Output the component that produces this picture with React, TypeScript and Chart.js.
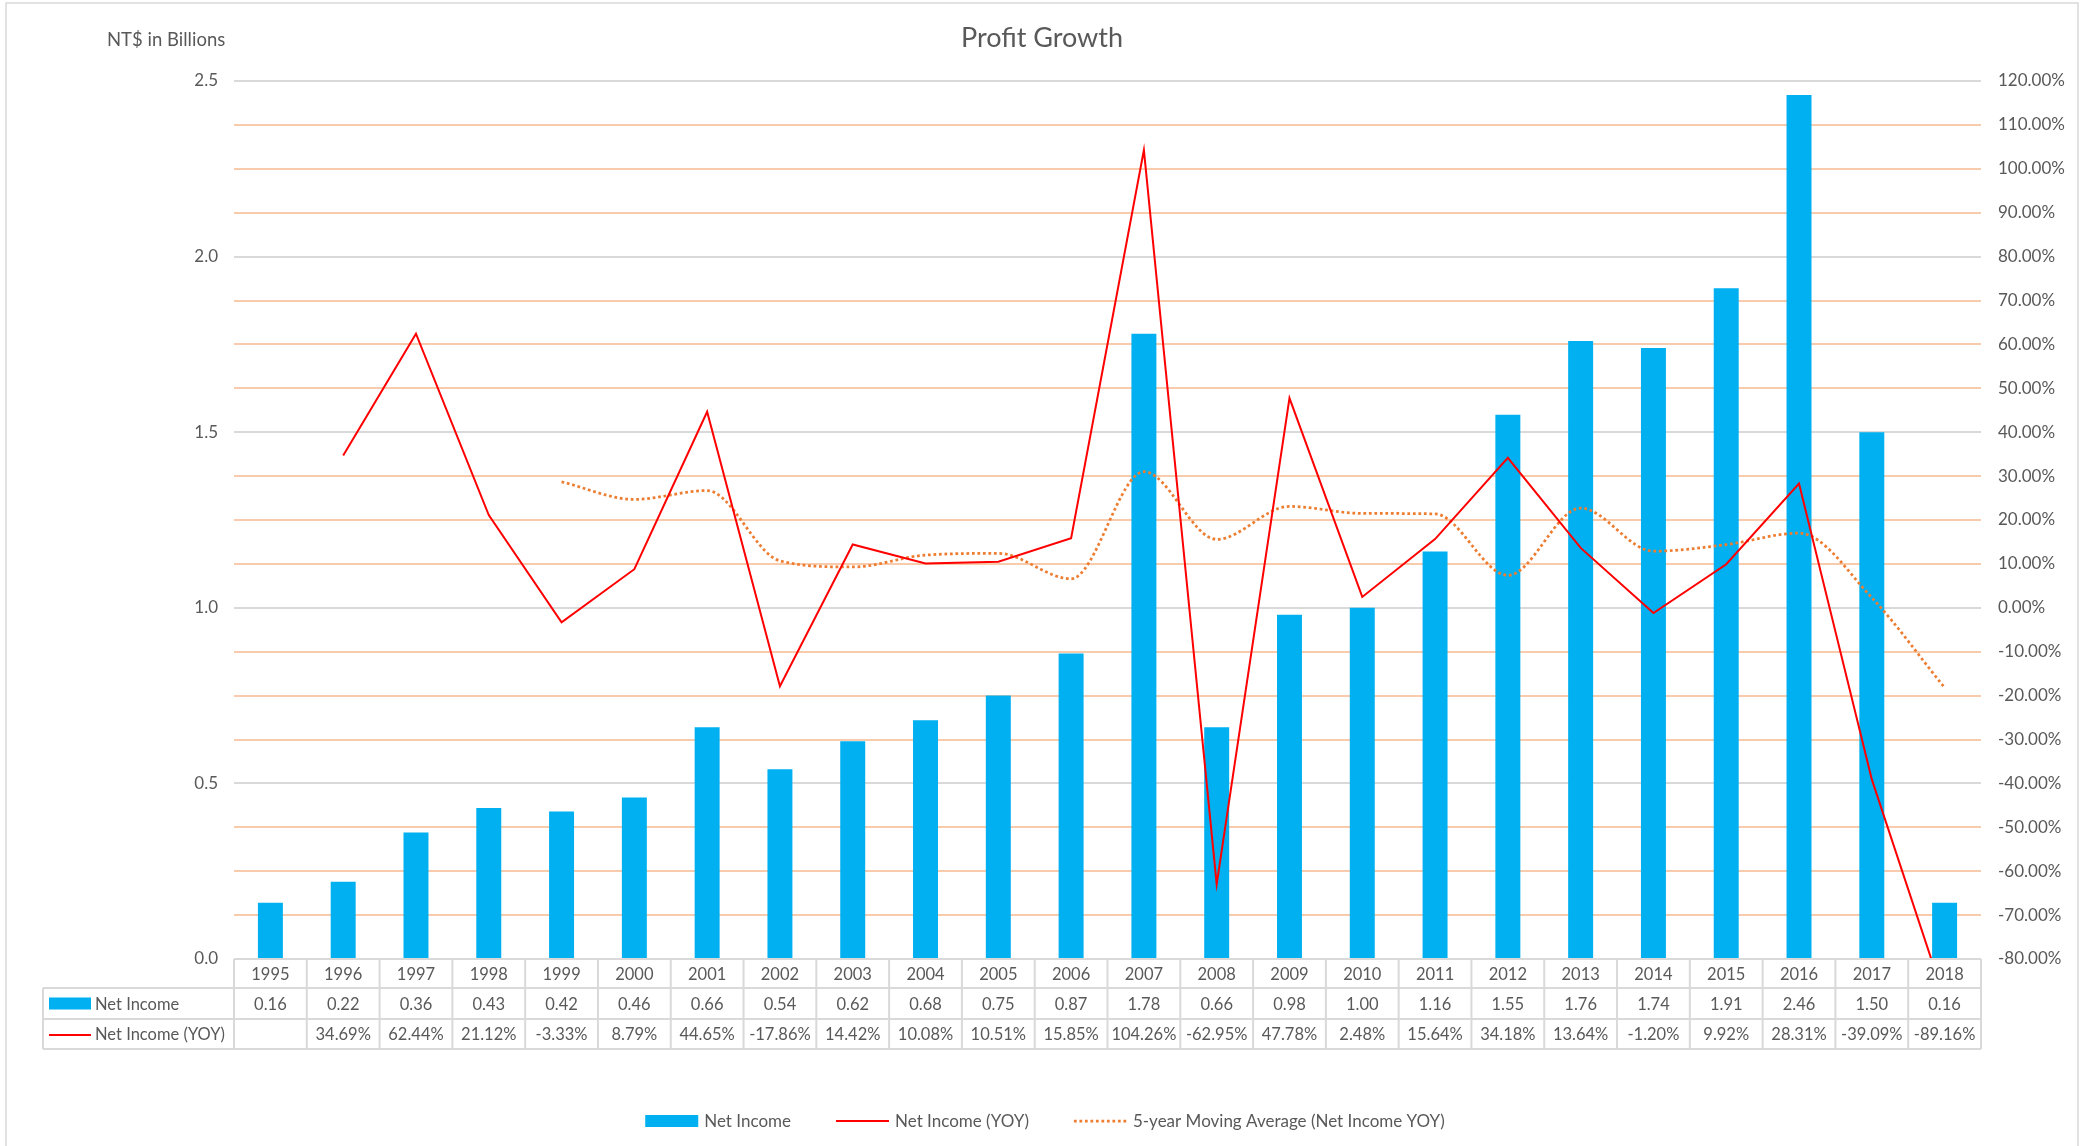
import React, { useEffect, useRef } from "react";
import { Chart, registerables } from "chart.js";

Chart.register(...registerables);

const years = ["1995", "1996", "1997", "1998", "1999", "2000", "2001", "2002", "2003", "2004", "2005", "2006", "2007", "2008", "2009", "2010", "2011", "2012", "2013", "2014", "2015", "2016", "2017", "2018"];
const netIncome = [0.16, 0.22, 0.36, 0.43, 0.42, 0.46, 0.66, 0.54, 0.62, 0.68, 0.75, 0.87, 1.78, 0.66, 0.98, 1.0, 1.16, 1.55, 1.76, 1.74, 1.91, 2.46, 1.5, 0.16];
const netIncomeYoy = [null, 34.69, 62.44, 21.12, -3.33, 8.79, 44.65, -17.86, 14.42, 10.08, 10.51, 15.85, 104.26, -62.95, 47.78, 2.48, 15.64, 34.18, 13.64, -1.2, 9.92, 28.31, -39.09, -89.16];
const movingAvgYoy = [null, null, null, null, 28.7, 24.7, 26.7, 10.7, 9.3, 12.0, 12.4, 6.6, 31.0, 15.6, 23.1, 21.5, 21.4, 7.4, 22.7, 12.9, 14.4, 17.0, 2.3, -18.2];

const leftMin = 0;
const leftMax = 2.5;
const leftStep = 0.5;
const rightMin = -80;
const rightMax = 120;
const rightStep = 10;

const titleText = "Profit Growth";
const leftAxisTitle = "NT$ in Billions";
const seriesNames = ["Net Income", "Net Income (YOY)", "5-year Moving Average (Net Income YOY)"];

const FONT = "Lato, 'Open Sans', sans-serif";
const TEXT = "#595959";
const BLUE = "#00B0F0";
const RED = "#FF0000";
const ORANGE = "#ED7D31";
const GRID_GRAY = "#D9D9D9";
const GRID_PEACH = "#F8CBAD";
const TABLE_LINE = "#D9D9D9";

const W = 2092;
const H = 1146;

const extras = {
  id: "excelExtras",
  beforeDraw(chart: any) {
    const ctx = chart.ctx;
    ctx.save();
    ctx.fillStyle = "#ffffff";
    ctx.fillRect(0, 0, chart.width, chart.height);
    ctx.strokeStyle = "#D9D9D9";
    ctx.lineWidth = 1.5;
    ctx.strokeRect(6, 3, 2072, 1160);
    ctx.restore();
  },
  afterDraw(chart: any) {
    const ctx = chart.ctx;
    const area = chart.chartArea;
    const xs = chart.scales.x;
    const n = years.length;
    const colW = (area.right - area.left) / n;
    ctx.save();

    // title
    ctx.fillStyle = TEXT;
    ctx.font = `27px ${FONT}`;
    ctx.textAlign = "center";
    ctx.textBaseline = "middle";
    ctx.fillText(titleText, 1042, 38);

    // left axis title
    ctx.font = `18.5px ${FONT}`;
    ctx.textAlign = "left";
    ctx.fillText(leftAxisTitle, 107, 40);

    // data table
    const top = area.bottom;
    const r1 = top + 29;
    const r2 = top + 60;
    const r3 = top + 90;
    const tableLeft = 43;
    ctx.strokeStyle = TABLE_LINE;
    ctx.lineWidth = 2;
    ctx.beginPath();
    // horizontal lines
    ctx.moveTo(area.left, top); ctx.lineTo(area.right, top);
    ctx.moveTo(tableLeft, r1); ctx.lineTo(area.right, r1);
    ctx.moveTo(tableLeft, r2); ctx.lineTo(area.right, r2);
    ctx.moveTo(tableLeft, r3); ctx.lineTo(area.right, r3);
    // vertical lines
    ctx.moveTo(tableLeft, r1); ctx.lineTo(tableLeft, r3);
    for (let i = 0; i <= n; i++) {
      const x = area.left + i * colW;
      ctx.moveTo(x, top); ctx.lineTo(x, r3);
    }
    ctx.stroke();

    ctx.fillStyle = TEXT;
    ctx.font = `16.5px ${FONT}`;
    ctx.textAlign = "center";
    ctx.textBaseline = "middle";
    for (let i = 0; i < n; i++) {
      const cx = xs.getPixelForValue(i);
      ctx.fillText(years[i], cx, (top + r1) / 2 + 1);
      ctx.fillText(netIncome[i].toFixed(2), cx, (r1 + r2) / 2 + 1);
      const y = netIncomeYoy[i];
      if (y !== null) ctx.fillText(y.toFixed(2) + "%", cx, (r2 + r3) / 2 + 1);
    }
    // row headers
    ctx.textAlign = "left";
    ctx.fillStyle = BLUE;
    ctx.fillRect(49, (r1 + r2) / 2 - 6, 42, 12);
    ctx.strokeStyle = RED;
    ctx.lineWidth = 2;
    ctx.beginPath();
    ctx.moveTo(49, (r2 + r3) / 2 + 1);
    ctx.lineTo(91, (r2 + r3) / 2 + 1);
    ctx.stroke();
    ctx.fillStyle = TEXT;
    ctx.fillText(seriesNames[0], 95, (r1 + r2) / 2 + 1);
    ctx.fillText(seriesNames[1], 95, (r2 + r3) / 2 + 1);

    // legend
    ctx.font = `17px ${FONT}`;
    const keyW = 53;
    const keyGap = 6;
    const itemGap = 45;
    const widths = seriesNames.map((s) => ctx.measureText(s).width);
    const total = widths.reduce((a, b) => a + b, 0) + 3 * (keyW + keyGap) + 2 * itemGap;
    let x = 1045 - total / 2;
    const ly = 1121;
    for (let i = 0; i < 3; i++) {
      if (i === 0) {
        ctx.fillStyle = BLUE;
        ctx.fillRect(x, ly - 6, keyW, 12);
      } else if (i === 1) {
        ctx.strokeStyle = RED;
        ctx.lineWidth = 2;
        ctx.setLineDash([]);
        ctx.beginPath();
        ctx.moveTo(x, ly);
        ctx.lineTo(x + keyW, ly);
        ctx.stroke();
      } else {
        ctx.strokeStyle = ORANGE;
        ctx.lineWidth = 2.75;
        ctx.setLineDash([2.75, 2.75]);
        ctx.beginPath();
        ctx.moveTo(x, ly);
        ctx.lineTo(x + keyW, ly);
        ctx.stroke();
        ctx.setLineDash([]);
      }
      ctx.fillStyle = TEXT;
      ctx.textAlign = "left";
      ctx.fillText(seriesNames[i], x + keyW + keyGap, ly + 1);
      x += keyW + keyGap + widths[i] + itemGap;
    }
    ctx.restore();
  },
};

export default function App() {
  const ref = useRef<HTMLCanvasElement | null>(null);

  useEffect(() => {
    if (!ref.current) return;
    Chart.defaults.font.family = FONT;
    Chart.defaults.color = TEXT;
    const chart = new Chart(ref.current, {
      type: "bar",
      data: {
        labels: years,
        datasets: [
          {
            type: "bar",
            label: seriesNames[0],
            data: netIncome,
            backgroundColor: BLUE,
            borderWidth: 0,
            yAxisID: "y",
            barPercentage: 0.343,
            categoryPercentage: 1,
            order: 3,
          },
          {
            type: "line",
            label: seriesNames[1],
            data: netIncomeYoy,
            borderColor: RED,
            backgroundColor: RED,
            borderWidth: 2,
            pointRadius: 0,
            tension: 0,
            spanGaps: false,
            yAxisID: "y1",
            order: 1,
          },
          {
            type: "line",
            label: seriesNames[2],
            data: movingAvgYoy,
            borderColor: ORANGE,
            backgroundColor: ORANGE,
            borderWidth: 2.75,
            borderDash: [2.75, 2.75],
            borderCapStyle: "butt",
            pointRadius: 0,
            tension: 0.35,
            cubicInterpolationMode: "monotone",
            yAxisID: "y1",
            order: 2,
          },
        ],
      } as any,
      options: {
        animation: false,
        responsive: false,
        maintainAspectRatio: false,
        devicePixelRatio: 1,
        layout: { padding: { top: 81, bottom: H - 959, left: 0, right: 0 } },
        plugins: {
          legend: { display: false },
          title: { display: false },
          tooltip: { enabled: false },
        },
        scales: {
          x: {
            display: false,
            offset: true,
          },
          y: {
            position: "left",
            min: leftMin,
            max: leftMax,
            border: { display: false },
            grid: { display: false, drawTicks: false },
            ticks: {
              stepSize: leftStep,
              padding: 16,
              color: TEXT,
              font: { size: 17, family: FONT },
              callback: (v: any) => Number(v).toFixed(1),
            },
            afterFit: (s: any) => {
              s.width = 234;
            },
          },
          y1: {
            position: "right",
            min: rightMin,
            max: rightMax,
            border: { display: false },
            grid: {
              drawTicks: false,
              lineWidth: 2,
              color: (c: any) => {
                const v = Math.round(c.tick.value);
                return (v - rightMin) % 40 === 0 ? GRID_GRAY : GRID_PEACH;
              },
            },
            ticks: {
              stepSize: rightStep,
              padding: 17,
              color: TEXT,
              font: { size: 17, family: FONT },
              callback: (v: any) => Number(v).toFixed(2) + "%",
            },
            afterFit: (s: any) => {
              s.width = W - 1981;
            },
          },
        },
      } as any,
      plugins: [extras],
    });
    return () => chart.destroy();
  }, []);

  return (
    <div style={{ position: "fixed", left: 0, top: 0, width: W, height: H, background: "#fff" }}>
      <canvas ref={ref} width={W} height={H} style={{ width: W, height: H, display: "block" }} />
    </div>
  );
}
